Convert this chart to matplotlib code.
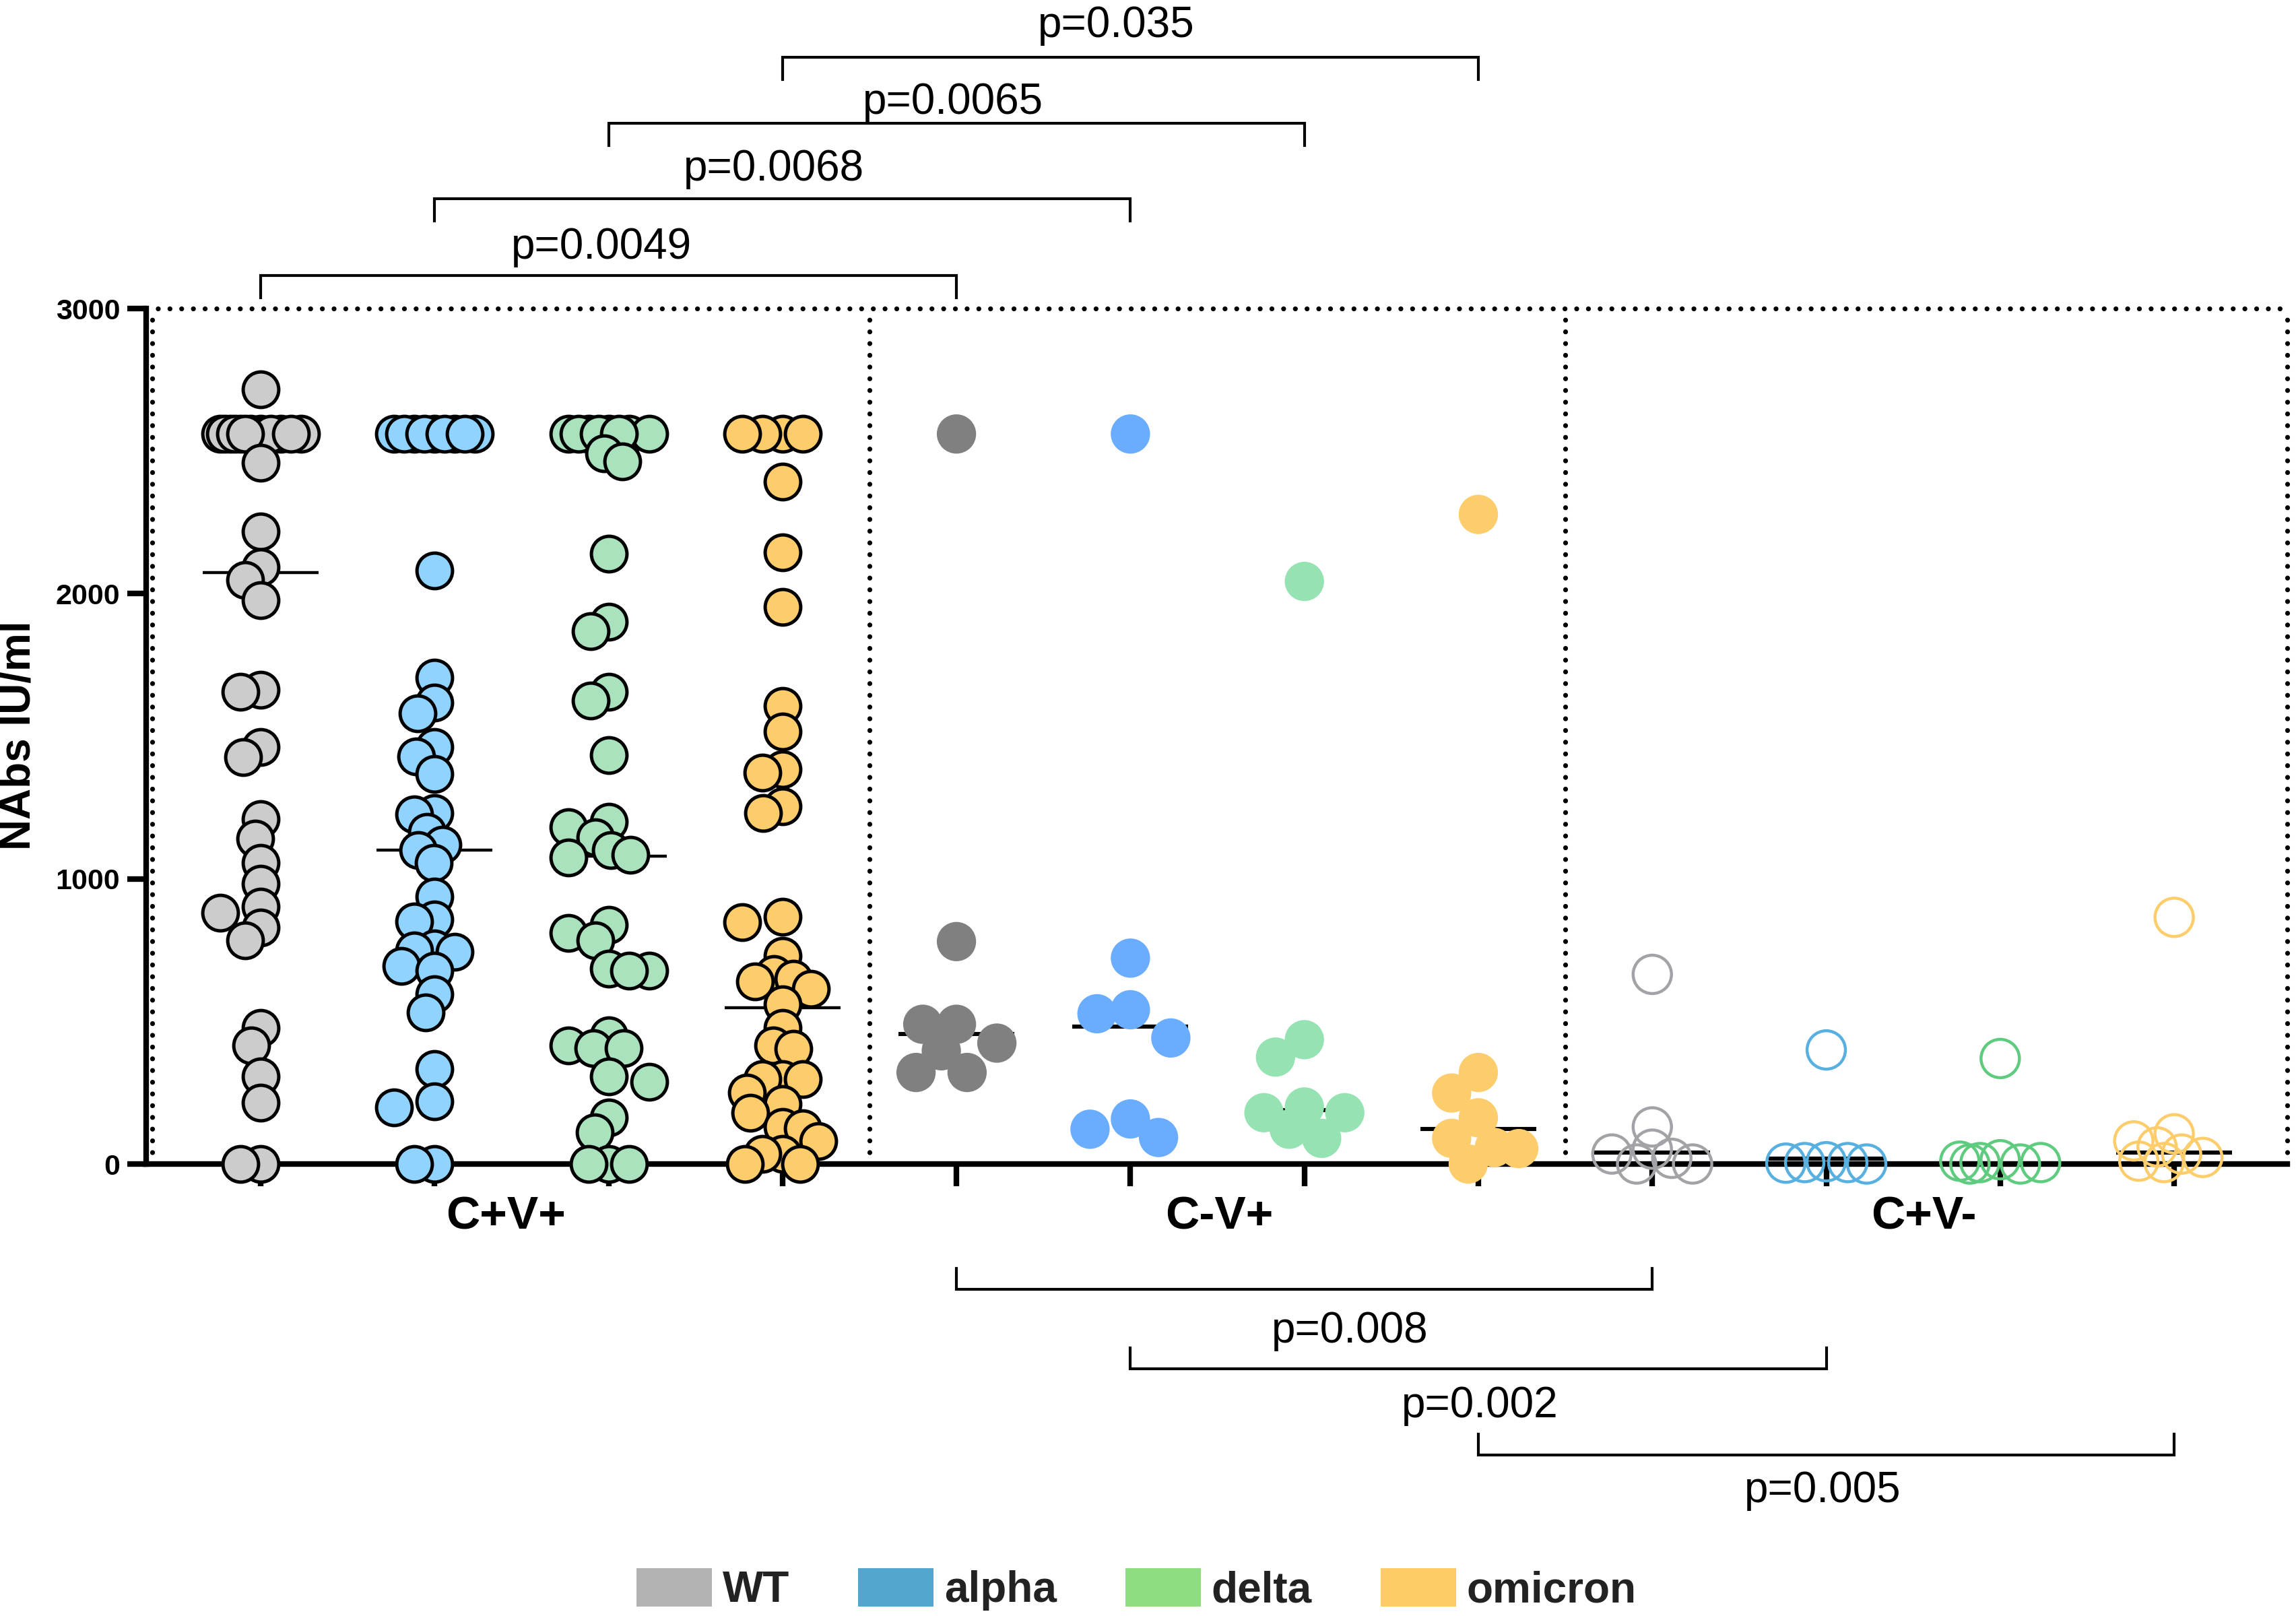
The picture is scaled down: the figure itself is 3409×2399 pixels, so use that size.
import numpy as np
import matplotlib
matplotlib.use("Agg")
import matplotlib.pyplot as plt
from matplotlib.patches import Patch

# ---------------- data (NAbs IU/ml) ----------------
variants = ["WT", "alpha", "delta", "omicron"]
cohorts = ["C+V+", "C-V+", "C+V-"]

# C+V+ cohort
cpvp_wt = [2716] + [2560] * 12 + [2459, 2217, 2094, 2049, 1977, 1664, 1655, 1462, 1426,
                                  1209, 1141, 1056, 983, 902, 880, 830, 785, 478, 415,
                                  306, 216, 0, 0]
cpvp_alpha = [2560] * 9 + [2082, 1706, 1619, 1580, 1462, 1430, 1368, 1230, 1227, 1164,
                           1119, 1101, 1056, 938, 857, 850, 755, 749, 745, 695, 677,
                           595, 532, 333, 220, 198, 0, 0]
cpvp_delta = [2560] * 8 + [2491, 2464, 2139, 1901, 1868, 1657, 1625, 1435, 1200, 1182,
                           1146, 1100, 1085, 1074, 839, 810, 785, 685, 677, 677, 452,
                           415, 406, 406, 307, 288, 162, 111, 0, 0, 0]
cpvp_omicron = [2560] * 4 + [2392, 2145, 1953, 1607, 1516, 1384, 1372, 1254, 1231, 866,
                             848, 731, 667, 650, 640, 614, 560, 478, 415, 405, 297, 297,
                             297, 250, 210, 180, 130, 126, 80, 35, 35, 0, 0]
# C-V+ cohort
cmvp_wt = [2560, 780, 490, 490, 424, 397, 321, 321]
cmvp_alpha = [2560, 722, 541, 527, 442, 158, 122, 93]
cmvp_delta = [2043, 436, 375, 200, 180, 180, 122, 90]
cmvp_omicron = [2278, 321, 249, 162, 90, 58, 54, 0]
# C+V- cohort
cpvm_wt = [665, 130, 52, 35, 20, 0, 0]
cpvm_alpha = [400, 8, 5, 5, 3, 0]
cpvm_delta = [370, 15, 10, 5, 5, 0, 0]
cpvm_omicron = [865, 106, 81, 60, 35, 23, 10, 5]

# medians (horizontal lines)
med_cpvp = [2075, 1100, 1080, 547]
med_cmvp = [457, 481, 190, 122]
med_cpvm = [39, 18, 3, 39]

# significance annotations
top_pairs = [(0, 4), (1, 5), (2, 6), (3, 7)]
top_pvals = ["p=0.0049", "p=0.0068", "p=0.0065", "p=0.035"]
bot_pairs = [(4, 8), (5, 9), (7, 11)]
bot_pvals = ["p=0.008", "p=0.002", "p=0.005"]

# colours
face_cpvp = ["#cccccc", "#8fd3fe", "#a9e2bd", "#fecd6b"]
face_cmvp = ["#808080", "#6aacfe", "#95e3b3", "#fecd6b"]
edge_cpvm = ["#a2a2a7", "#58b0e0", "#5fcb7f", "#fecd6b"]
legend_colors = ["#b3b3b3", "#52a6d0", "#90dc80", "#fdcc67"]

# ---------------- figure ----------------
plt.rcParams["font.family"] = ["Liberation Sans", "DejaVu Sans"]

W, H, DPI = 3409, 2399, 200
fig = plt.figure(figsize=(W / DPI, H / DPI), dpi=DPI)
ax = fig.add_axes([217 / W, 671 / H, 3179 / W, 1270 / H])
XL = (-0.658, 11.65)
ax.set_xlim(*XL)
ax.set_ylim(0, 3000)

p0 = ax.transData.transform((0, 0))
px_x = ax.transData.transform((1, 0))[0] - p0[0]
px_y = ax.transData.transform((0, 1))[1] - p0[1]


def swarm(vals, dc, wmax):
    """simple beeswarm in pixel space: returns x offsets in data units"""
    ys = np.asarray(vals, float) * px_y
    order = np.argsort(-ys, kind="stable")
    px, py = [], []
    out = np.zeros(len(ys))
    for i in order:
        y = ys[i]
        cands = [0.0]
        for a, b in zip(px, py):
            dy = abs(b - y)
            if dy < dc:
                dx = np.sqrt(dc * dc - dy * dy)
                cands += [a - dx, a + dx]
        cands = sorted(set(np.round(cands, 4)), key=lambda c: (abs(c), c))
        chosen = None
        for c in cands:
            if abs(c) > wmax + 1e-6:
                continue
            if all((c - a) ** 2 + (y - b) ** 2 >= dc * dc - 1e-3 for a, b in zip(px, py)):
                chosen = c
                break
        if chosen is None:
            grid = np.linspace(-wmax, wmax, 17)
            chosen = max(grid, key=lambda g: min((g - a) ** 2 + (y - b) ** 2
                                                 for a, b in zip(px, py)))
        px.append(chosen)
        py.append(y)
        out[i] = chosen / px_x
    return out


groups = [
    (cpvp_wt, cpvp_alpha, cpvp_delta, cpvp_omicron),
    (cmvp_wt, cmvp_alpha, cmvp_delta, cmvp_omicron),
    (cpvm_wt, cpvm_alpha, cpvm_delta, cpvm_omicron),
]
medians = [med_cpvp, med_cmvp, med_cpvm]

half = 86 / px_x
for g, (grp, meds) in enumerate(zip(groups, medians)):
    for v, vals in enumerate(grp):
        pos = g * 4 + v
        lw_med = 1.6 if g == 0 else 2.2
        ax.hlines(meds[v], pos - half, pos + half, color="black", lw=lw_med, zorder=2.7)
        if g == 0:
            off = swarm(vals, 30, 60)
            ax.scatter(pos + off, vals, s=19.0 ** 2, facecolor=face_cpvp[v],
                       edgecolor="black", linewidths=1.8, zorder=3, clip_on=False)
        elif g == 1:
            off = swarm(vals, 50, 60)
            ax.scatter(pos + off, vals, s=21.0 ** 2, facecolor=face_cmvp[v],
                       edgecolor="none", zorder=3, clip_on=False)
        else:
            off = swarm(vals, 32, 60)
            ax.scatter(pos + off, vals, s=20.5 ** 2, facecolor="none",
                       edgecolor=edge_cpvm[v], linewidths=1.6, zorder=3, clip_on=False)

# dotted panel frames
dot = dict(color="black", lw=2.6, ls=(0, (0.01, 2.4)), dash_capstyle="round",
           clip_on=False, zorder=2)
ax.plot([XL[0], XL[1]], [3000, 3000], **dot)
for xv in [XL[0] + 9 / px_x, 3.5, 7.5, XL[1]]:
    ax.plot([xv, xv], [0, 3000], **dot)

# axes styling
for s in ["top", "right"]:
    ax.spines[s].set_visible(False)
for s in ["left", "bottom"]:
    ax.spines[s].set_linewidth(3)
ax.set_xticks(range(12))
ax.set_xticklabels([])
ax.tick_params(axis="x", direction="out", length=12, width=3)
ax.set_yticks([0, 1000, 2000, 3000])
ax.tick_params(axis="y", direction="out", length=10, width=3, pad=4)
for lab in ax.get_yticklabels():
    lab.set_fontweight("bold")
    lab.set_fontsize(15.5)

fig.text(28 / W, 1 - 1092 / H, "NAbs IU/ml", rotation=90, ha="center", va="center",
         fontsize=23, fontweight="bold")

# cohort labels
for xc, lab in zip([1.41, 5.51, 9.56], cohorts):
    ax.text(xc, -229, lab, ha="center", va="baseline", fontsize=25,
            fontweight="bold", clip_on=False)

# significance brackets (top)
top_bar_y = [3115, 3385, 3650, 3880]
top_text_y = [3174, 3449, 3683, 3951]
top_text_x = [1.96, 2.95, 3.98, 4.92]
for (a, b), p, yb, yt, xt in zip(top_pairs, top_pvals, top_bar_y, top_text_y, top_text_x):
    ax.plot([a, a, b, b], [yb - 78, yb, yb, yb - 78], color="black", lw=1.5,
            clip_on=False, solid_joinstyle="miter")
    ax.text(xt, yt, p, ha="center", va="baseline", fontsize=23, clip_on=False)

# significance brackets (bottom)
bot_bar_y = [-439, -718, -1021]
bot_text_y = [-626, -888, -1186]
bot_text_x = [6.26, 7.01, 8.98]
for (a, b), p, yb, yt, xt in zip(bot_pairs, bot_pvals, bot_bar_y, bot_text_y, bot_text_x):
    ax.plot([a, a, b, b], [yb + 73, yb, yb, yb + 73], color="black", lw=1.5,
            clip_on=False, solid_joinstyle="miter")
    ax.text(xt, yt, p, ha="center", va="baseline", fontsize=23, clip_on=False)

# legend
handles = [Patch(facecolor=c, edgecolor="none", label=l)
           for c, l in zip(legend_colors, variants)]
leg = fig.legend(handles=handles, loc="center", bbox_to_anchor=(0.495, 0.0165),
                 ncol=4, frameon=False, handlelength=1.75, handleheight=1.0,
                 handletextpad=0.25, columnspacing=1.6,
                 prop=dict(size=23, weight="bold", family="Liberation Sans"))
for t in leg.get_texts():
    t.set_color("#222222")

fig.savefig("out.png", dpi=DPI)
